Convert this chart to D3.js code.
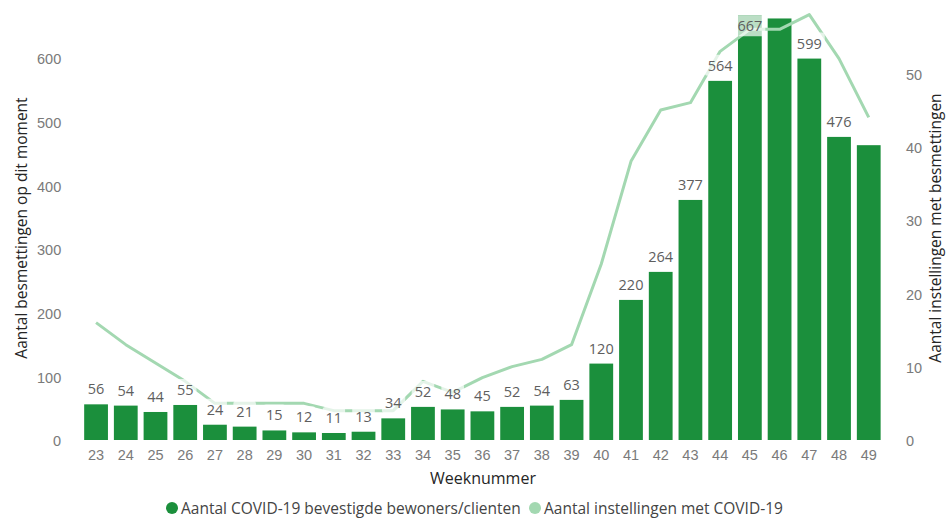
<!DOCTYPE html>
<html>
<head>
<meta charset="utf-8">
<script src="https://cdn.jsdelivr.net/npm/d3@7"></script>
<style>
  body { margin: 0; background: #fff; }
  svg { display: block; font-family: "Segoe UI", "Open Sans", "Noto Sans", sans-serif; }
  .tick text { fill: #7a7a7a; font-size: 14.5px; }
  .domain, .tick line { display: none; }
</style>
</head>
<body>
<svg id="chart" width="948" height="518"></svg>
<script>
// week numbers on the x axis
var weeks = [23, 24, 25, 26, 27, 28, 29, 30, 31, 32, 33, 34, 35, 36, 37, 38, 39, 40, 41, 42, 43, 44, 45, 46, 47, 48, 49];
// bars: confirmed residents/clients (left axis)
var bewoners = [56, 54, 44, 55, 24, 21, 15, 12, 11, 13, 34, 52, 48, 45, 52, 54, 63, 120, 220, 264, 377, 564, 667, 662, 599, 476, 463];
// line: institutions with COVID-19 (right axis)
var instellingen = [16, 13, 10.5, 8, 5, 5, 5, 5, 4, 4, 4, 8, 6.5, 8.5, 10, 11, 13, 24, 38, 45, 46, 53, 56, 56, 58, 52, 44];
// data labels that are not drawn in the picture
var hiddenLabels = [46, 49];
var leftTicks = [0, 100, 200, 300, 400, 500, 600];
var rightTicks = [0, 10, 20, 30, 40, 50];

var svg = d3.select("#chart");
var plotTop = 0, plotBottom = 440, plotLeft = 81.2, plotRight = 883.6;

var x = d3.scaleBand()
   .domain(weeks)
   .range([plotLeft, plotRight])
   .paddingInner(0.2)
   .paddingOuter(0.1);

var yL = d3.scaleLinear().domain([0, 691]).range([plotBottom, plotTop]);
var yR = d3.scaleLinear().domain([0, 60]).range([plotBottom, plotTop]);

// axes
svg.append("g")
   .attr("transform", "translate(" + (plotLeft - 20) + ",0)")
   .call(d3.axisLeft(yL).tickValues(leftTicks).tickSize(0).tickPadding(0))
   .selectAll("text").attr("dy", "0.4em");

svg.append("g")
   .attr("transform", "translate(906,0)")
   .call(d3.axisRight(yR).tickValues(rightTicks).tickSize(0).tickPadding(0))
   .selectAll("text").attr("dy", "0.4em");

svg.append("g")
   .attr("transform", "translate(0," + (plotBottom + 8) + ")")
   .call(d3.axisBottom(x).tickSize(0).tickPadding(0))
   .selectAll("text").attr("dy", "0.85em");

// bars
svg.append("g").selectAll("rect")
   .data(weeks)
   .enter().append("rect")
   .attr("x", function(d) { return x(d); })
   .attr("width", x.bandwidth())
   .attr("y", function(d, i) { return yL(bewoners[i]); })
   .attr("height", function(d, i) { return plotBottom - yL(bewoners[i]); })
   .attr("fill", "#1b8f3c");

// line
var line = d3.line()
   .x(function(d, i) { return x(weeks[i]) + x.bandwidth() / 2; })
   .y(function(d) { return yR(d); });

svg.append("path")
   .datum(instellingen)
   .attr("d", line)
   .attr("fill", "none")
   .attr("stroke", "#a3d8b1")
   .attr("stroke-width", 3)
   .attr("stroke-linejoin", "round");

// data labels with a faint white box behind them
var labels = svg.append("g").selectAll("g")
   .data(weeks.filter(function(w) { return hiddenLabels.indexOf(w) < 0; }))
   .enter().append("g");

labels.each(function(w) {
   var i = weeks.indexOf(w);
   var top = yL(bewoners[i]);
   // no room above the bar: put the label just inside it
   var base = top - 10 < 14 ? top + 16 : top - 10;
   var g = d3.select(this);
   var t = g.append("text")
      .attr("x", x(w) + x.bandwidth() / 2)
      .attr("y", base)
      .attr("text-anchor", "middle")
      .attr("fill", "#5e5e5e")
      .style("font-size", "14.5px")
      .text(bewoners[i]);
   var bb = t.node().getBBox();
   g.insert("rect", "text")
      .attr("x", bb.x - 3)
      .attr("y", bb.y - 1)
      .attr("width", bb.width + 6)
      .attr("height", bb.height + 2)
      .attr("rx", 3)
      .attr("fill", "#fff")
      .attr("fill-opacity", 0.7);
});

// axis titles
svg.append("text")
   .attr("transform", "translate(27,228) rotate(-90)")
   .attr("text-anchor", "middle")
   .attr("fill", "#252525")
   .style("font-size", "15.5px")
   .text("Aantal besmettingen op dit moment");

svg.append("text")
   .attr("transform", "translate(941,228) rotate(-90)")
   .attr("text-anchor", "middle")
   .attr("fill", "#252525")
   .style("font-size", "15.5px")
   .text("Aantal instellingen met besmettingen");

svg.append("text")
   .attr("x", 483)
   .attr("y", 484)
   .attr("text-anchor", "middle")
   .attr("fill", "#252525")
   .style("font-size", "16px")
   .text("Weeknummer");

// legend
var legend = [
   { label: "Aantal COVID-19 bevestigde bewoners/clienten", color: "#1b8f3c", x: 172 },
   { label: "Aantal instellingen met COVID-19", color: "#a3d8b1", x: 535 }
];
var lg = svg.append("g").selectAll("g").data(legend).enter().append("g");
lg.append("circle")
   .attr("cx", function(d) { return d.x; })
   .attr("cy", 508)
   .attr("r", 6)
   .attr("fill", function(d) { return d.color; });
lg.append("text")
   .attr("x", function(d) { return d.x + 9; })
   .attr("y", 513.5)
   .attr("fill", "#444")
   .style("font-size", "15.5px")
   .text(function(d) { return d.label; });
</script>
</body>
</html>
